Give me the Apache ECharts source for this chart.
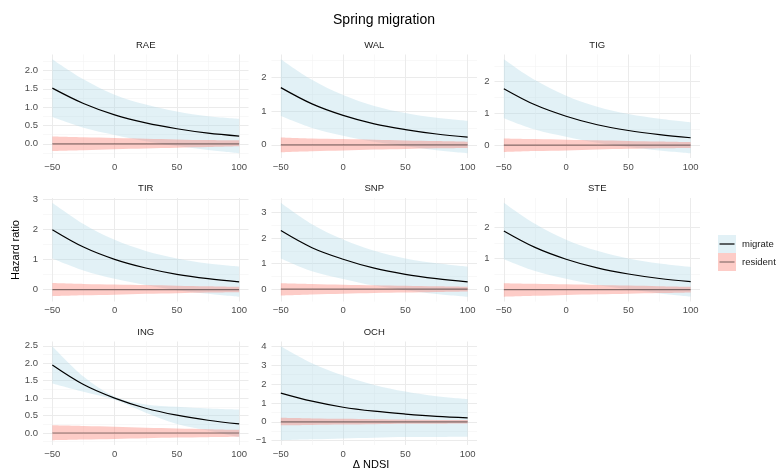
<!DOCTYPE html>
<html>
<head>
<meta charset="utf-8">
<script src="https://cdn.jsdelivr.net/npm/echarts@6/dist/echarts.min.js"></script>
<style>
html, body { margin: 0; padding: 0; background: #fff; }
#chart { width: 777px; height: 471px; }
</style>
</head>
<body>
<div id="chart"></div>
<script>
// facet order and x positions
const panels = ['RAE', 'WAL', 'TIG', 'TIR', 'SNP', 'STE', 'ING', 'OCH'];
const xs = [-50, -25, 0, 25, 50, 75, 100];
const xTicks = [-50, 0, 50, 100];

// migrate: fit, lower, upper
const RAE_mig   = [1.52, 1.10, 0.79, 0.57, 0.41, 0.29, 0.21];
const RAE_migLo = [0.73, 0.44, 0.24, 0.07, -0.06, -0.17, -0.26];
const RAE_migHi = [2.31, 1.76, 1.34, 1.07, 0.88, 0.75, 0.68];
const WAL_mig   = [1.69, 1.21, 0.87, 0.62, 0.45, 0.32, 0.23];
const WAL_migLo = [0.85, 0.50, 0.27, 0.09, -0.04, -0.16, -0.25];
const WAL_migHi = [2.53, 1.92, 1.47, 1.15, 0.94, 0.80, 0.71];
const TIG_mig   = [1.78, 1.27, 0.91, 0.64, 0.46, 0.33, 0.23];
const TIG_migLo = [0.85, 0.49, 0.26, 0.07, -0.06, -0.17, -0.26];
const TIG_migHi = [2.71, 2.05, 1.56, 1.21, 0.98, 0.83, 0.72];
const TIR_mig   = [2.00, 1.42, 1.01, 0.72, 0.51, 0.365, 0.26];
const TIR_migLo = [1.04, 0.64, 0.36, 0.15, -0.02, -0.14, -0.24];
const TIR_migHi = [2.90, 2.19, 1.66, 1.29, 1.04, 0.87, 0.77];
const SNP_mig   = [2.29, 1.62, 1.17, 0.82, 0.58, 0.41, 0.28];
const SNP_migLo = [1.20, 0.70, 0.40, 0.14, -0.04, -0.19, -0.30];
const SNP_migHi = [3.38, 2.54, 1.94, 1.50, 1.20, 1.01, 0.88];
const STE_mig   = [1.89, 1.36, 0.98, 0.70, 0.505, 0.36, 0.26];
const STE_migLo = [0.98, 0.60, 0.35, 0.15, 0.01, -0.12, -0.22];
const STE_migHi = [2.80, 2.12, 1.61, 1.25, 1.00, 0.84, 0.73];
const ING_mig   = [1.95, 1.39, 1.00, 0.71, 0.51, 0.365, 0.26];
const ING_migLo = [1.42, 1.18, 0.95, 0.58, 0.26, 0.07, -0.12];
const ING_migHi = [2.49, 1.62, 1.05, 0.82, 0.75, 0.70, 0.67];
const OCH_mig   = [1.52, 1.09, 0.77, 0.56, 0.41, 0.29, 0.21];
const OCH_migLo = [-0.98, -0.93, -0.88, -0.84, -0.81, -0.80, -0.79];
const OCH_migHi = [4.00, 3.10, 2.45, 1.95, 1.60, 1.35, 1.20];

// resident: fit, lower, upper
const RAE_res   = [0, 0, 0, 0, 0, 0, 0];
const RAE_resLo = [-0.20, -0.18, -0.15, -0.13, -0.11, -0.09, -0.07];
const RAE_resHi = [0.20, 0.18, 0.16, 0.14, 0.12, 0.10, 0.09];
const WAL_res   = [0, 0, 0, 0, 0, 0, 0];
const WAL_resLo = [-0.22, -0.19, -0.17, -0.14, -0.12, -0.10, -0.09];
const WAL_resHi = [0.22, 0.19, 0.17, 0.15, 0.13, 0.11, 0.09];
const TIG_res   = [0, 0, 0, 0, 0, 0, 0];
const TIG_resLo = [-0.22, -0.19, -0.17, -0.14, -0.12, -0.10, -0.09];
const TIG_resHi = [0.21, 0.19, 0.17, 0.15, 0.13, 0.11, 0.09];
const TIR_res   = [0, 0, 0, 0, 0, 0, 0];
const TIR_resLo = [-0.22, -0.19, -0.17, -0.14, -0.12, -0.10, -0.09];
const TIR_resHi = [0.22, 0.19, 0.17, 0.15, 0.13, 0.11, 0.09];
const SNP_res   = [0, 0, 0, 0, 0, 0, 0];
const SNP_resLo = [-0.25, -0.21, -0.18, -0.15, -0.13, -0.11, -0.09];
const SNP_resHi = [0.23, 0.20, 0.17, 0.15, 0.13, 0.11, 0.09];
const STE_res   = [0, 0, 0, 0, 0, 0, 0];
const STE_resLo = [-0.23, -0.20, -0.17, -0.15, -0.13, -0.11, -0.09];
const STE_resHi = [0.21, 0.19, 0.17, 0.15, 0.13, 0.11, 0.09];
const ING_res   = [0, 0, 0, 0, 0, 0, 0];
const ING_resLo = [-0.21, -0.19, -0.17, -0.15, -0.13, -0.12, -0.11];
const ING_resHi = [0.22, 0.20, 0.18, 0.15, 0.13, 0.11, 0.09];
const OCH_res   = [0, 0, 0, 0, 0, 0, 0];
const OCH_resLo = [-0.19, -0.17, -0.15, -0.13, -0.11, -0.10, -0.09];
const OCH_resHi = [0.21, 0.18, 0.16, 0.14, 0.12, 0.10, 0.09];

// y breaks per facet
const RAE_yTicks = [0, 0.5, 1, 1.5, 2];
const WAL_yTicks = [0, 1, 2];
const TIG_yTicks = [0, 1, 2];
const TIR_yTicks = [0, 1, 2, 3];
const SNP_yTicks = [0, 1, 2, 3];
const STE_yTicks = [0, 1, 2];
const ING_yTicks = [0, 0.5, 1, 1.5, 2, 2.5];
const OCH_yTicks = [-1, 0, 1, 2, 3, 4];

const facetData = [
  [RAE_mig, RAE_migLo, RAE_migHi, RAE_res, RAE_resLo, RAE_resHi, RAE_yTicks],
  [WAL_mig, WAL_migLo, WAL_migHi, WAL_res, WAL_resLo, WAL_resHi, WAL_yTicks],
  [TIG_mig, TIG_migLo, TIG_migHi, TIG_res, TIG_resLo, TIG_resHi, TIG_yTicks],
  [TIR_mig, TIR_migLo, TIR_migHi, TIR_res, TIR_resLo, TIR_resHi, TIR_yTicks],
  [SNP_mig, SNP_migLo, SNP_migHi, SNP_res, SNP_resLo, SNP_resHi, SNP_yTicks],
  [STE_mig, STE_migLo, STE_migHi, STE_res, STE_resLo, STE_resHi, STE_yTicks],
  [ING_mig, ING_migLo, ING_migHi, ING_res, ING_resLo, ING_resHi, ING_yTicks],
  [OCH_mig, OCH_migLo, OCH_migHi, OCH_res, OCH_resLo, OCH_resHi, OCH_yTicks]
];

const FONT = '"Liberation Sans", Arial, sans-serif';
const blueFill = 'rgba(173,216,230,0.35)';
const redFill = 'rgba(250,128,114,0.4)';
const resLine = 'rgba(0,0,0,0.45)';

const colLeft = [43, 271.5, 494.5];
const rowTop = [54.5, 198, 341.5];
const panelW = 205.5, panelH = 103.5;

const minusFmt = v => String(v).replace('-', '\u2212');

function midpoints(t, lo, hi) {
  const step = t[1] - t[0];
  const out = [];
  for (let v = t[0] - step / 2; v <= hi; v += step) {
    if (v >= lo) out.push(v);
  }
  return out;
}

const grids = [], xAxes = [], yAxes = [], series = [], graphics = [];

facetData.forEach((d, i) => {
  const [mig, migLo, migHi, res, resLo, resHi, yTicks] = d;
  const r = Math.floor(i / 3), c = i % 3;
  grids.push({ left: colLeft[c], top: rowTop[r], width: panelW, height: panelH, outerBoundsMode: 'none' });

  // ggplot style 5% expansion
  const ymax = Math.max(...migHi, ...resHi);
  const ymin = Math.min(...migLo, ...resLo);
  const pad = (ymax - ymin) * 0.05;
  const yLo = ymin - pad, yHi = ymax + pad;
  const xLo = -57.5, xHi = 107.5;
  const dec = yTicks.some(v => v % 1 !== 0) ? 1 : 0;

  // labels + major grid
  xAxes.push({
    type: 'value', gridIndex: i, min: xLo, max: xHi,
    axisLine: { show: false }, axisTick: { show: false, customValues: xTicks },
    axisLabel: { customValues: xTicks, formatter: minusFmt, color: '#4d4d4d', fontSize: 9.5, fontFamily: FONT, margin: 4 },
    splitLine: { show: true, lineStyle: { color: '#ebebeb', width: 1 } }
  });
  // minor grid
  xAxes.push({
    type: 'value', gridIndex: i, min: xLo, max: xHi, position: 'bottom',
    axisLine: { show: false }, axisTick: { show: false, customValues: midpoints(xTicks, xLo, xHi) },
    axisLabel: { show: false },
    splitLine: { show: true, lineStyle: { color: '#f3f3f3', width: 0.6 } }
  });
  // hidden time-type axis so line stacking happens on y
  xAxes.push({ type: 'time', gridIndex: i, min: xLo, max: xHi, show: false });

  yAxes.push({
    type: 'value', gridIndex: i, min: yLo, max: yHi,
    axisLine: { show: false }, axisTick: { show: false, customValues: yTicks },
    axisLabel: { customValues: yTicks, formatter: v => minusFmt(v.toFixed(dec)), color: '#4d4d4d', fontSize: 9.5, fontFamily: FONT, margin: 5 },
    splitLine: { show: true, lineStyle: { color: '#ebebeb', width: 1 } }
  });
  yAxes.push({
    type: 'value', gridIndex: i, min: yLo, max: yHi, position: 'left',
    axisLine: { show: false }, axisTick: { show: false, customValues: midpoints(yTicks, yLo, yHi) },
    axisLabel: { show: false },
    splitLine: { show: true, lineStyle: { color: '#f3f3f3', width: 0.6 } }
  });

  const xi = 3 * i + 2, yi = 2 * i;
  const base = { type: 'line', xAxisIndex: xi, yAxisIndex: yi, symbol: 'none', smooth: 0.35, silent: true, animation: false };
  // migrate ribbon
  series.push(Object.assign({}, base, {
    stack: 'm' + i, stackStrategy: 'all', lineStyle: { opacity: 0 },
    data: xs.map((x, k) => [x, migLo[k]])
  }));
  series.push(Object.assign({}, base, {
    stack: 'm' + i, stackStrategy: 'all', lineStyle: { opacity: 0 },
    areaStyle: { color: blueFill, opacity: 1 },
    data: xs.map((x, k) => [x, migHi[k] - migLo[k]])
  }));
  // resident ribbon
  series.push(Object.assign({}, base, {
    stack: 'r' + i, stackStrategy: 'all', lineStyle: { opacity: 0 },
    data: xs.map((x, k) => [x, resLo[k]])
  }));
  series.push(Object.assign({}, base, {
    stack: 'r' + i, stackStrategy: 'all', lineStyle: { opacity: 0 },
    areaStyle: { color: redFill, opacity: 1 },
    data: xs.map((x, k) => [x, resHi[k] - resLo[k]])
  }));
  // fits
  series.push(Object.assign({}, base, {
    name: 'migrate', lineStyle: { color: '#000', width: 1.2 },
    data: xs.map((x, k) => [x, mig[k]])
  }));
  series.push(Object.assign({}, base, {
    name: 'resident', lineStyle: { color: resLine, width: 1.2 },
    data: xs.map((x, k) => [x, res[k]])
  }));

  // strip label
  graphics.push({
    type: 'text', x: colLeft[c] + panelW / 2, y: rowTop[r] - 9.5,
    style: { text: panels[i], fill: '#1a1a1a', font: '9.5px ' + FONT, align: 'center', verticalAlign: 'middle' }
  });
});

// title, axis titles
graphics.push({ type: 'text', x: 384, y: 20, style: { text: 'Spring migration', fill: '#000', font: '14px ' + FONT, align: 'center', verticalAlign: 'middle' } });
graphics.push({ type: 'text', x: 371, y: 465, style: { text: '\u0394 NDSI', fill: '#000', font: '11px ' + FONT, align: 'center', verticalAlign: 'middle' } });
graphics.push({ type: 'text', x: 16, y: 250, rotation: Math.PI / 2, style: { text: 'Hazard ratio', fill: '#000', font: '11px ' + FONT, align: 'center', verticalAlign: 'middle' } });

// legend keys
graphics.push({ type: 'rect', shape: { x: 718, y: 235, width: 18, height: 18 }, style: { fill: blueFill } });
graphics.push({ type: 'line', shape: { x1: 719.5, y1: 244, x2: 734.5, y2: 244 }, style: { stroke: '#000', lineWidth: 1.2 } });
graphics.push({ type: 'rect', shape: { x: 718, y: 253, width: 18, height: 18 }, style: { fill: '#fdccc7' } });
graphics.push({ type: 'line', shape: { x1: 719.5, y1: 262, x2: 734.5, y2: 262 }, style: { stroke: resLine, lineWidth: 1.2 } });
graphics.push({ type: 'text', x: 742, y: 244, style: { text: 'migrate', fill: '#1a1a1a', font: '9.5px ' + FONT, align: 'left', verticalAlign: 'middle' } });
graphics.push({ type: 'text', x: 742, y: 262, style: { text: 'resident', fill: '#1a1a1a', font: '9.5px ' + FONT, align: 'left', verticalAlign: 'middle' } });

const chart = echarts.init(document.getElementById('chart'), null, { renderer: 'canvas' });
chart.setOption({
  backgroundColor: '#fff',
  animation: false,
  textStyle: { fontFamily: FONT },
  grid: grids,
  xAxis: xAxes,
  yAxis: yAxes,
  series: series,
  graphic: graphics
});
</script>
</body>
</html>
